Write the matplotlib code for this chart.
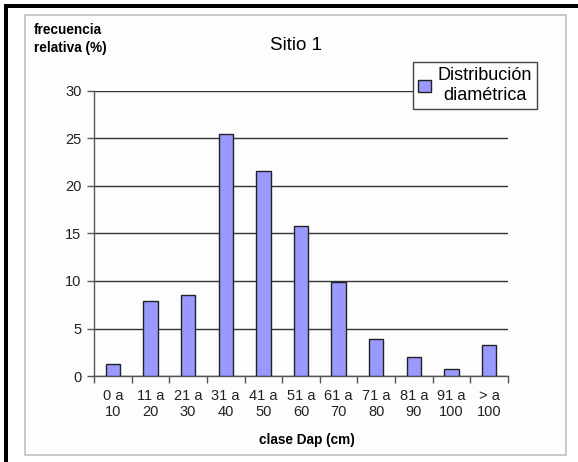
import matplotlib
matplotlib.use('Agg')
import matplotlib.pyplot as plt
from matplotlib.patches import Rectangle
import numpy as np

plt.rcParams['font.family'] = ['Liberation Sans', 'DejaVu Sans']

# clases diametricas y frecuencia relativa (%)
clases = ['0 a\n10', '11 a\n20', '21 a\n30', '31 a\n40', '41 a\n50', '51 a\n60',
          '61 a\n70', '71 a\n80', '81 a\n90', '91 a\n100', '> a\n100']
frecuencia = [1.3, 7.9, 8.5, 25.5, 21.6, 15.8, 9.9, 3.9, 2.0, 0.7, 3.3]
y_ticks = [0, 5, 10, 15, 20, 25, 30]

W, H = 578, 462
fig = plt.figure(figsize=(W / 100, H / 100), dpi=100)
fig.patch.set_facecolor('white')

def px_rect(x0, y0, x1, y1, **kw):
    # rectangle given in pixel coords from the top-left corner
    r = Rectangle((x0 / W, 1 - y1 / H), (x1 - x0) / W, (y1 - y0) / H,
                  transform=fig.transFigure, **kw)
    fig.add_artist(r)
    return r

# marco negro y area del grafico
px_rect(4, 4, W, 7.5, facecolor='black', edgecolor='none', zorder=0)
px_rect(4, 4, 7.5, H, facecolor='black', edgecolor='none', zorder=0)
px_rect(25, 15, 566, 455, facecolor='#fcfdfc', edgecolor='#c0c0c0', lw=1.2, zorder=0)

ax = fig.add_axes([94 / W, 1 - 376 / H, (508 - 94) / W, (376 - 91) / H])
ax.set_facecolor('none')

x = np.arange(len(clases))
ax.bar(x, frecuencia, width=0.38, color='#9999ff', edgecolor='#222222',
       linewidth=1.0, zorder=3, label='Distribución\ndiamétrica')

ax.set_xlim(-0.5, len(clases) - 0.5)
ax.set_ylim(0, 30)
ax.set_yticks(y_ticks)
ax.yaxis.grid(True, color='#333333', linewidth=1.0)
ax.set_axisbelow(True)

ax.set_xticks(x)
ax.set_xticklabels(clases, fontsize=10.5, color='#222222', linespacing=1.2)
ax.set_xticks(np.arange(len(clases) + 1) - 0.5, minor=True)
ax.tick_params(axis='x', which='major', length=0, pad=9)
ax.tick_params(axis='x', which='minor', length=5, width=1, color='#555555', direction='out')
ax.tick_params(axis='y', length=5, width=1, color='#555555', labelsize=10.5,
               labelcolor='#222222', pad=4)

for s in ['top', 'right']:
    ax.spines[s].set_visible(False)
for s in ['left', 'bottom']:
    ax.spines[s].set_color('#555555')
    ax.spines[s].set_linewidth(1.0)

fig.text(296 / W, 1 - 46 / H, 'Sitio 1', ha='center', va='center', fontsize=13.5)
fig.text(34 / W, 1 - 39 / H, 'frecuencia\nrelativa (%)', ha='left', va='center',
         fontsize=9.8, fontweight='bold', linespacing=1.45)
fig.text(307 / W, 1 - 440 / H, 'clase Dap (cm)', ha='center', va='center',
         fontsize=9.8, fontweight='bold')

leg = ax.legend(loc='upper left', bbox_to_anchor=(413 / W, 1 - 62 / H),
                bbox_transform=fig.transFigure, fontsize=13, frameon=True,
                fancybox=False, edgecolor='#444444', framealpha=1,
                handlelength=0.7, handleheight=0.7, handletextpad=0.35,
                borderpad=0.3, borderaxespad=0)
leg.get_frame().set_linewidth(1.0)
leg.get_frame().set_facecolor('#fcfdfc')
for t in leg.get_texts():
    t.set_multialignment('center')
    t.set_linespacing(1.2)

fig.savefig('out.png', dpi=100)
